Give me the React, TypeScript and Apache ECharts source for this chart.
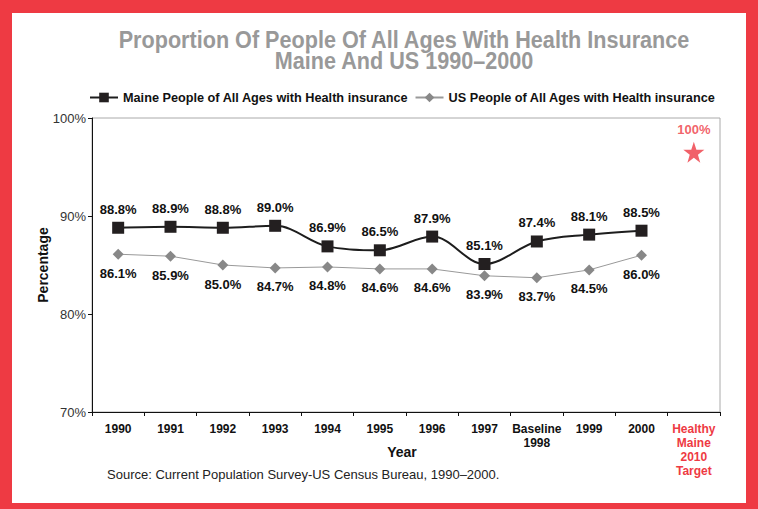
import React, { useEffect, useRef } from "react";
import * as echarts from "echarts";

const categories = ["1990", "1991", "1992", "1993", "1994", "1995", "1996", "1997", "Baseline\n1998", "1999", "2000", "Healthy\nMaine\n2010\nTarget"];
const maineValues = [88.8, 88.9, 88.8, 89.0, 86.9, 86.5, 87.9, 85.1, 87.4, 88.1, 88.5, null];
const usValues = [86.1, 85.9, 85.0, 84.7, 84.8, 84.6, 84.6, 83.9, 83.7, 84.5, 86.0, null];
const targetValues = [null, null, null, null, null, null, null, null, null, null, null, 96.5];
const targetLabel = "100%";
const yTicks = [70, 80, 90, 100];

const RED = "#ee3a43";
const STAR = "path://M50,0 L61.8,35.1 L98.1,35.1 L68.8,56.8 L79.4,91.9 L50,70.2 L20.6,91.9 L31.2,56.8 L1.9,35.1 L38.2,35.1 Z";

export default function App() {
  const ref = useRef<HTMLDivElement>(null);
  useEffect(() => {
    const chart = echarts.init(ref.current!, null, { renderer: "svg" });
    const sans = "'Liberation Sans', Arial, sans-serif";
    chart.setOption({
      animation: false,
      backgroundColor: RED,
      graphic: [
        { type: "rect", shape: { x: 12, y: 13, width: 734, height: 490 }, style: { fill: "#fff" }, z: -10 },
        {
          type: "text", x: 404, y: 40, scaleX: 0.9,
          style: { text: "Proportion Of People Of All Ages With Health Insurance", font: `bold 24px ${sans}`, fill: "#999", align: "center", verticalAlign: "middle" },
        },
        {
          type: "text", x: 404, y: 61, scaleX: 0.9,
          style: { text: "Maine And US 1990–2000", font: `bold 24px ${sans}`, fill: "#999", align: "center", verticalAlign: "middle" },
        },
        {
          type: "text", x: 402, y: 452,
          style: { text: "Year", font: `bold 14px ${sans}`, fill: "#111", align: "center", verticalAlign: "middle" },
        },
        {
          type: "text", x: 43, y: 265, rotation: Math.PI / 2,
          style: { text: "Percentage", font: `bold 14px ${sans}`, fill: "#111", align: "center", verticalAlign: "middle" },
        },
        {
          type: "text", x: 107, y: 474,
          style: { text: "Source: Current Population Survey-US Census Bureau, 1990–2000.", font: `13px ${sans}`, fill: "#222", verticalAlign: "middle" },
        },
      ],
      legend: {
        top: 86, left: 84, width: 690, itemWidth: 28, itemHeight: 12, itemGap: 6,
        textStyle: { fontFamily: sans, fontWeight: "bold", fontSize: 12.7, color: "#111" },
        data: ["Maine People of All Ages with Health insurance", "US People of All Ages with Health insurance"],
      },
      grid: { left: 92, right: 38, top: 118, bottom: 97, show: true, borderColor: "#aaa", borderWidth: 1, backgroundColor: "transparent" },
      xAxis: {
        type: "category", data: categories, boundaryGap: true,
        axisLine: { lineStyle: { color: "#111", width: 1 } },
        axisTick: { show: true, length: 4, lineStyle: { color: "#111" } },
        axisLabel: {
          interval: 0, margin: 10, fontFamily: sans, fontWeight: "bold", fontSize: 12, color: "#111", lineHeight: 14,
          formatter: (v: string, i: number) => (i === categories.length - 1 ? `{t|${v.split("\n").join("}\n{t|")}}` : v),
          rich: { t: { color: RED, fontFamily: sans, fontWeight: "bold", fontSize: 12, lineHeight: 14 } },
        },
      },
      yAxis: {
        type: "value", min: yTicks[0], max: yTicks[yTicks.length - 1], interval: 10,
        axisLine: { show: true, lineStyle: { color: "#111", width: 1 } },
        axisTick: { show: true, length: 4, lineStyle: { color: "#111" } },
        splitLine: { show: false },
        axisLabel: { formatter: "{value}%", fontFamily: sans, fontSize: 13, color: "#333", margin: 6 },
      },
      series: [
        {
          name: "Maine People of All Ages with Health insurance", type: "line", data: maineValues,
          smooth: 0.35, symbol: "rect", symbolSize: 12,
          lineStyle: { color: "#1d1d1d", width: 2 }, itemStyle: { color: "#231f20" },
          label: {
            show: true, position: "top", distance: 6, formatter: (p: any) => `${p.value.toFixed(1)}%`,
            fontFamily: sans, fontWeight: "bold", fontSize: 13, color: "#111",
          },
          z: 3,
        },
        {
          name: "US People of All Ages with Health insurance", type: "line", data: usValues,
          symbol: "diamond", symbolSize: 11,
          lineStyle: { color: "#999", width: 1 }, itemStyle: { color: "#888" },
          label: {
            show: true, position: "bottom", distance: 7, formatter: (p: any) => `${p.value.toFixed(1)}%`,
            fontFamily: sans, fontWeight: "bold", fontSize: 13, color: "#111",
          },
        },
        {
          name: "Target", type: "scatter", data: targetValues, symbol: STAR, symbolSize: 21,
          itemStyle: { color: RED },
          label: { show: true, position: "top", distance: 6, formatter: targetLabel, fontFamily: sans, fontWeight: "bold", fontSize: 13, color: RED },
        },
      ],
    });
    return () => chart.dispose();
  }, []);
  return <div ref={ref} style={{ position: "fixed", left: 0, top: 0, width: 758, height: 509 }} />;
}
